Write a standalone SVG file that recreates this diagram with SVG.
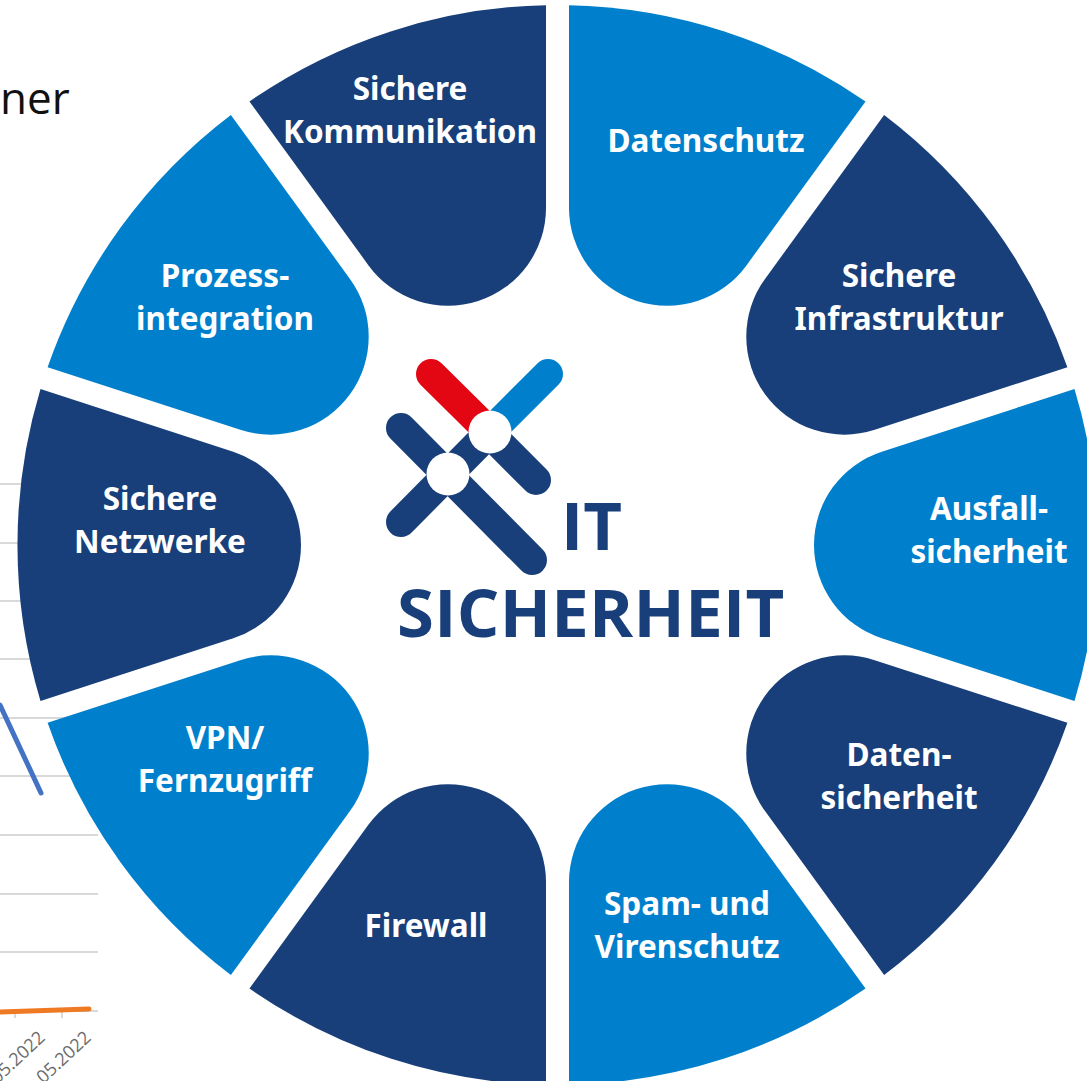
<svg xmlns="http://www.w3.org/2000/svg" width="1087" height="1081" viewBox="0 0 1087 1081">
<style>
.d{fill:#183f7a}.b{fill:#0080cc}
.t{font:700 31.5px "Noto Sans","Open Sans",sans-serif;fill:#fff;text-anchor:middle}
.g{stroke:#d9d9d9;stroke-width:2;fill:none}
.a{font:400 18px "Open Sans","Liberation Sans",sans-serif;fill:#6b6b6b;text-anchor:end}
.l{font:700 67px "Open Sans","Noto Sans",sans-serif;fill:#183f7a}
</style>
<defs>
<path id="seg" d="M517 -155.9A539 539 0 0 1 517 155.9L324.3 93.3A98.1 98.1 0 0 1 324.3 -93.3Z"/>
</defs>
<rect width="1087" height="1081" fill="#fff"/>
<g id="background-chart">
<text x="0" y="114" style="font:400 44px 'Open Sans','Liberation Sans',sans-serif;fill:#111">ner</text>
<path class="g" d="M0 484H98M0 543H98M0 601H98M0 659H98M0 718H98M0 776H98M0 835H98M0 894H98M0 952H98M0 1011H98M15 1011V1018M62 1011V1018"/>
<path d="M0 705L41 793" stroke="#4472c4" stroke-width="5" stroke-linecap="round" fill="none"/>
<path d="M0 1012L89 1009" stroke="#ef7a24" stroke-width="5" stroke-linecap="round" fill="none"/>
<text class="a" transform="translate(46 1039) rotate(-43)">05.2022</text>
<text class="a" transform="translate(92 1039) rotate(-43)">05.2022</text>
</g>
<g id="connectors"/>
<g id="datenschutz"><use href="#seg" class="b" transform="translate(557.5 545) rotate(-72)"/><text class="t" x="706" y="152">Datenschutz</text></g>
<g id="infrastruktur"><use href="#seg" class="d" transform="translate(557.5 545) rotate(-36)"/><text class="t" x="899" y="287">Sichere</text><text class="t" x="899" y="330">Infrastruktur</text></g>
<g id="ausfall"><use href="#seg" class="b" transform="translate(557.5 545)"/><text class="t" x="989" y="520">Ausfall-</text><text class="t" x="989" y="563">sicherheit</text></g>
<g id="datensicherheit"><use href="#seg" class="d" transform="translate(557.5 545) rotate(36)"/><text class="t" x="899" y="766">Daten-</text><text class="t" x="899" y="809">sicherheit</text></g>
<g id="spam"><use href="#seg" class="b" transform="translate(557.5 545) rotate(72)"/><text class="t" x="687" y="915">Spam- und</text><text class="t" x="687" y="958">Virenschutz</text></g>
<g id="firewall"><use href="#seg" class="d" transform="translate(557.5 545) rotate(108)"/><text class="t" x="426" y="937">Firewall</text></g>
<g id="vpn"><use href="#seg" class="b" transform="translate(557.5 545) rotate(144)"/><text class="t" x="225" y="749">VPN/</text><text class="t" x="225" y="792">Fernzugriff</text></g>
<g id="netzwerke"><use href="#seg" class="d" transform="translate(557.5 545) rotate(180)"/><text class="t" x="160" y="510">Sichere</text><text class="t" x="160" y="553">Netzwerke</text></g>
<g id="prozess"><use href="#seg" class="b" transform="translate(557.5 545) rotate(216)"/><text class="t" x="225" y="287">Prozess-</text><text class="t" x="225" y="330">integration</text></g>
<g id="kommunikation"><use href="#seg" class="d" transform="translate(557.5 545) rotate(252)"/><text class="t" x="410" y="100">Sichere</text><text class="t" x="410" y="143">Kommunikation</text></g>
<g id="logo">
<g fill="none" stroke-width="30" stroke-linecap="round">
<path stroke="#183f7a" d="M401 428L532 560M401 522L490 432M536 480L490 434"/>
<path stroke="#0080cc" d="M548 374L501 421"/>
<path stroke="#e30613" d="M431 374L478.5 421"/>
</g>
<circle cx="490" cy="432" r="21.5" fill="#fff"/>
<circle cx="448" cy="474" r="21.5" fill="#fff"/>
<text class="l" x="561" y="550">IT</text>
<text class="l" x="397" y="637" letter-spacing="0.3">SICHERHEIT</text>
</g>
</svg>
